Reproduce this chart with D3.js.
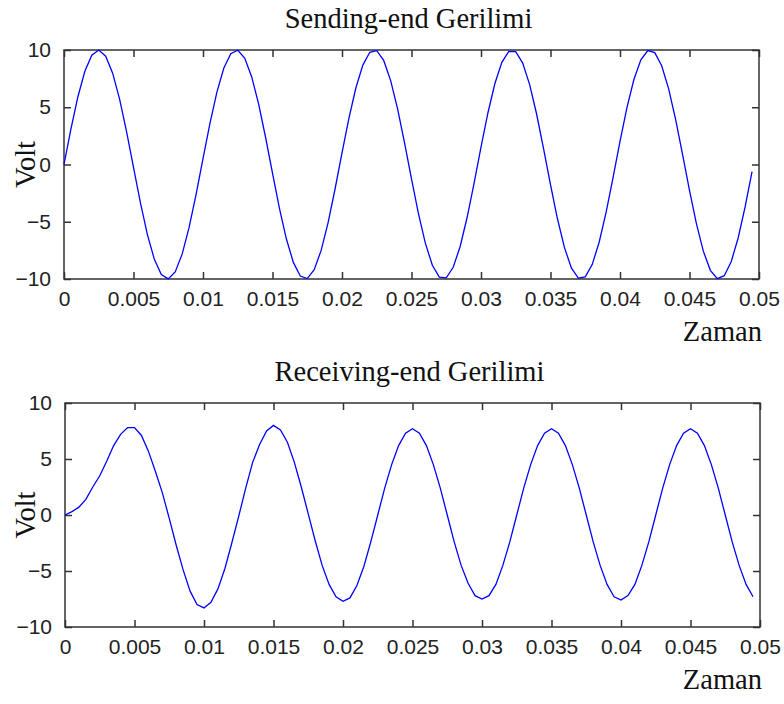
<!DOCTYPE html>
<html>
<head>
<meta charset="utf-8">
<script src="https://cdn.jsdelivr.net/npm/d3@7"></script>
<style>
  body { margin: 0; background: #fff; }
  .tick text { font-family: "Liberation Sans", Arial, sans-serif; font-size: 21px; fill: #222; }
  .lbl { font-family: "Liberation Serif", "Times New Roman", serif; font-size: 28.5px; fill: #111; }
</style>
</head>
<body>
<div id="chart-area"></div>
<script>
//============================DATA============================
var titles = ["Sending-end Gerilimi", "Receiving-end Gerilimi"];
var xTicks = [0, 0.005, 0.01, 0.015, 0.02, 0.025, 0.03, 0.035, 0.04, 0.045, 0.05];
var xTickLabels = ["0", "0.005", "0.01", "0.015", "0.02", "0.025", "0.03", "0.035", "0.04", "0.045", "0.05"];
var yTicks = [-10, -5, 0, 5, 10];

// time samples (s)
var time = [0, 0.0005, 0.001, 0.0015, 0.002, 0.0025, 0.003, 0.0035, 0.004, 0.0045,
  0.005, 0.0055, 0.006, 0.0065, 0.007, 0.0075, 0.008, 0.0085, 0.009, 0.0095,
  0.01, 0.0105, 0.011, 0.0115, 0.012, 0.0125, 0.013, 0.0135, 0.014, 0.0145,
  0.015, 0.0155, 0.016, 0.0165, 0.017, 0.0175, 0.018, 0.0185, 0.019, 0.0195,
  0.02, 0.0205, 0.021, 0.0215, 0.022, 0.0225, 0.023, 0.0235, 0.024, 0.0245,
  0.025, 0.0255, 0.026, 0.0265, 0.027, 0.0275, 0.028, 0.0285, 0.029, 0.0295,
  0.03, 0.0305, 0.031, 0.0315, 0.032, 0.0325, 0.033, 0.0335, 0.034, 0.0345,
  0.035, 0.0355, 0.036, 0.0365, 0.037, 0.0375, 0.038, 0.0385, 0.039, 0.0395,
  0.04, 0.0405, 0.041, 0.0415, 0.042, 0.0425, 0.043, 0.0435, 0.044, 0.0445,
  0.045, 0.0455, 0.046, 0.0465, 0.047, 0.0475, 0.048, 0.0485, 0.049, 0.0495];

// sending-end voltage (V)
var sending = [0, 3.11, 5.92, 8.14, 9.54, 10.0, 9.46, 7.98, 5.71, 2.87,
  -0.25, -3.35, -6.12, -8.28, -9.61, -9.99, -9.38, -7.83, -5.50, -2.63,
  0.51, 3.59, 6.32, 8.42, 9.68, 9.98, 9.29, 7.67, 5.29, 2.38,
  -0.76, -3.83, -6.51, -8.55, -9.74, -9.96, -9.19, -7.50, -5.07, -2.14,
  1.01, 4.06, 6.70, 8.68, 9.80, 9.94, 9.09, 7.33, 4.85, 1.89,
  -1.26, -4.29, -6.89, -8.80, -9.84, -9.90, -8.98, -7.16, -4.63, -1.64,
  1.51, 4.52, 7.07, 8.92, 9.88, 9.86, 8.86, 6.98, 4.41, 1.39,
  -1.76, -4.74, -7.24, -9.03, -9.92, -9.82, -8.74, -6.79, -4.18, -1.14,
  2.01, 4.96, 7.42, 9.14, 9.95, 9.77, 8.62, 6.61, 3.95, 0.89,
  -2.26, -5.18, -7.59, -9.24, -9.97, -9.71, -8.49, -6.42, -3.71, -0.63];

// receiving-end voltage (V)
var receiving = [0, 0.3, 0.7, 1.4, 2.5, 3.5, 4.8, 6.2, 7.2, 7.8,
  7.8, 7.1, 5.7, 3.9, 2.0, -0.3, -2.7, -4.9, -6.8, -8.0,
  -8.3, -7.8, -6.6, -4.8, -2.5, -0.1, 2.4, 4.7, 6.3, 7.5,
  8.0, 7.6, 6.5, 4.7, 2.5, 0.1, -2.3, -4.5, -6.2, -7.3,
  -7.7, -7.4, -6.3, -4.6, -2.4, 0, 2.4, 4.5, 6.2, 7.3,
  7.7, 7.3, 6.2, 4.5, 2.4, 0, -2.4, -4.5, -6.1, -7.2,
  -7.5, -7.2, -6.2, -4.5, -2.4, 0, 2.4, 4.5, 6.2, 7.3,
  7.7, 7.3, 6.2, 4.5, 2.4, 0, -2.4, -4.5, -6.2, -7.3,
  -7.6, -7.2, -6.2, -4.5, -2.4, 0, 2.4, 4.5, 6.2, 7.3,
  7.7, 7.3, 6.2, 4.5, 2.4, 0, -2.4, -4.5, -6.2, -7.3];

//============================LAYOUT============================
var totalW = 784, totalH = 704;
// one box per subplot (left, top, width, height)
var panels = [
  { left: 64, top: 50, w: 695, h: 229, series: sending, title: titles[0] },
  { left: 65, top: 403, w: 695, h: 224, series: receiving, title: titles[1] }
];

var svg = d3.select("#chart-area")
  .append("svg")
  .attr("width", totalW)
  .attr("height", totalH);

panels.forEach(function(p) {
  var g = svg.append("g")
    .attr("transform", "translate(" + p.left + "," + p.top + ")");

  var x = d3.scaleLinear().domain([0, 0.05]).range([0, p.w]);
  var y = d3.scaleLinear().domain([-10, 10]).range([p.h, 0]);

  // bottom axis with labels, ticks pointing inward
  var xb = g.append("g")
    .attr("transform", "translate(0," + p.h + ")")
    .call(d3.axisBottom(x).tickValues(xTicks).tickSizeInner(-7).tickSizeOuter(0).tickPadding(12)
      .tickFormat(function(d, i) { return xTickLabels[i]; }));
  // left axis
  var yl = g.append("g")
    .call(d3.axisLeft(y).tickValues(yTicks).tickSizeInner(-7).tickSizeOuter(0).tickPadding(13)
      .tickFormat(d3.format("d")));
  // top + right ticks, no labels
  var xt = g.append("g")
    .call(d3.axisTop(x).tickValues(xTicks).tickSizeInner(-7).tickSizeOuter(0).tickFormat(""));
  var yr = g.append("g")
    .attr("transform", "translate(" + p.w + ",0)")
    .call(d3.axisRight(y).tickValues(yTicks).tickSizeInner(-7).tickSizeOuter(0).tickFormat(""));

  [xb, yl, xt, yr].forEach(function(a) {
    a.select(".domain").remove();
    a.selectAll(".tick line").attr("stroke", "#333").attr("stroke-width", 1.5);
  });

  // box
  g.append("rect")
    .attr("x", 0).attr("y", 0)
    .attr("width", p.w).attr("height", p.h)
    .attr("fill", "none")
    .attr("stroke", "#333")
    .attr("stroke-width", 1.5);

  // data line
  g.append("path")
    .datum(time)
    .attr("fill", "none")
    .attr("stroke", "#0000ff")
    .attr("stroke-width", 1.3)
    .attr("d", d3.line()
      .x(function(d) { return x(d); })
      .y(function(d, i) { return y(p.series[i]); }));

  // title
  g.append("text")
    .attr("class", "lbl")
    .attr("x", p.w / 2 - 3)
    .attr("y", -22)
    .attr("text-anchor", "middle")
    .text(p.title);

  // y label
  g.append("text")
    .attr("class", "lbl")
    .attr("transform", "rotate(-90)")
    .attr("x", -p.h / 2)
    .attr("y", 35 - p.left)
    .attr("text-anchor", "middle")
    .text("Volt");

  // x label
  g.append("text")
    .attr("class", "lbl")
    .attr("x", 762 - p.left)
    .attr("y", p.h + 62)
    .attr("text-anchor", "end")
    .text("Zaman");
});
</script>
</body>
</html>
